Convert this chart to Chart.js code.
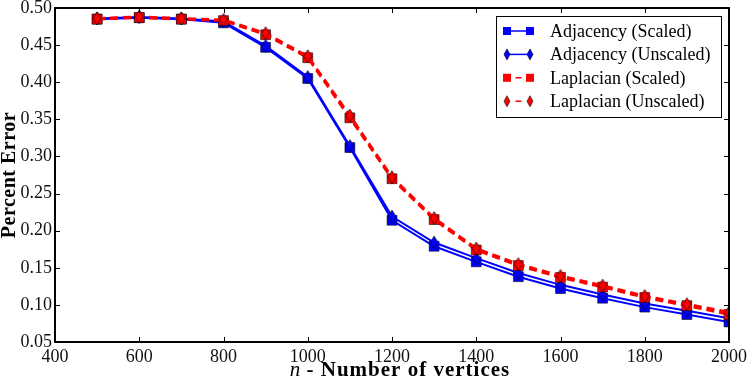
<!DOCTYPE html>
<html>
<head>
<meta charset="utf-8">
<script src="https://cdn.jsdelivr.net/npm/chart.js@4.4.0/dist/chart.umd.min.js"></script>
<style>
  html, body { margin: 0; padding: 0; background: #fff; }
</style>
</head>
<body>
<canvas id="chart" width="747" height="379"></canvas>
<script>
// n values and percent error for each method
const vertices = [500, 600, 700, 800, 900, 1000, 1100, 1200, 1300, 1400, 1500, 1600, 1700, 1800, 1900, 2000];
const adjScaled   = [0.485, 0.487, 0.485, 0.480, 0.447, 0.405, 0.312, 0.214, 0.179, 0.158, 0.138, 0.122, 0.109, 0.097, 0.087, 0.077];
const adjUnscaled = [0.486, 0.488, 0.486, 0.482, 0.449, 0.407, 0.314, 0.219, 0.184, 0.163, 0.143, 0.127, 0.114, 0.102, 0.092, 0.082];
const lapScaled   = [0.485, 0.487, 0.485, 0.483, 0.464, 0.433, 0.352, 0.270, 0.215, 0.174, 0.153, 0.137, 0.124, 0.110, 0.099, 0.087];
const lapUnscaled = [0.486, 0.488, 0.486, 0.484, 0.466, 0.435, 0.355, 0.272, 0.217, 0.176, 0.155, 0.139, 0.126, 0.112, 0.101, 0.090];
const seriesNames = ["Adjacency (Scaled)", "Adjacency (Unscaled)", "Laplacian (Scaled)", "Laplacian (Unscaled)"];

const xTicks = { min: 400, max: 2000, step: 200 };
const yTicks = { min: 0.05, max: 0.50, step: 0.05 };

const SERIF = '"Liberation Serif", "Times New Roman", serif';
Chart.defaults.font.family = SERIF;

function diamond(color, w, h) {
  const c = document.createElement("canvas");
  c.width = w + 2;
  c.height = h + 2;
  const g = c.getContext("2d");
  g.beginPath();
  g.moveTo(c.width / 2, 1);
  g.lineTo(c.width - 1, c.height / 2);
  g.lineTo(c.width / 2, c.height - 1);
  g.lineTo(1, c.height / 2);
  g.closePath();
  g.fillStyle = color;
  g.fill();
  g.strokeStyle = "rgba(0,0,0,0.75)";
  g.lineWidth = 0.8;
  g.stroke();
  return c;
}

const blueDiamond = diamond("#0000ff", 8, 13);
const redDiamond = diamond("#ff0000", 8, 13);
const blueDiamondSmall = diamond("#0000ff", 6, 11);
const redDiamondSmall = diamond("#ff0000", 6, 11);

function pts(vals) {
  return vertices.map((v, i) => ({ x: v, y: vals[i] }));
}

function makeSet(label, vals, color, marker, dashed, order) {
  return {
    label: label,
    data: pts(vals),
    borderColor: color,
    backgroundColor: color,
    borderWidth: dashed ? 2.8 : 2,
    borderDash: dashed ? [8, 5] : [],
    pointStyle: marker,
    pointRadius: 7,
    pointBorderColor: "rgba(0,0,0,0.55)",
    pointBorderWidth: 1,
    tension: 0,
    clip: 0,
    order: order,
  };
}

// axis frame with inward ticks on all four sides
const frame = {
  id: "frame",
  afterDatasetsDraw(chart) {
    const { ctx, chartArea: a, scales: { x, y } } = chart;
    ctx.save();
    ctx.strokeStyle = "#000";
    ctx.lineWidth = 1;
    ctx.beginPath();
    x.ticks.forEach((t) => {
      const px = Math.round(x.getPixelForValue(t.value)) + 0.5;
      ctx.moveTo(px, a.bottom); ctx.lineTo(px, a.bottom - 5);
      ctx.moveTo(px, a.top); ctx.lineTo(px, a.top + 5);
    });
    y.ticks.forEach((t) => {
      const py = Math.round(y.getPixelForValue(t.value)) + 0.5;
      ctx.moveTo(a.left, py); ctx.lineTo(a.left + 5, py);
      ctx.moveTo(a.right, py); ctx.lineTo(a.right - 5, py);
    });
    ctx.stroke();
    ctx.lineWidth = 2;
    ctx.strokeRect(a.left, a.top, a.right - a.left, a.bottom - a.top);
    ctx.restore();
  },
};

// axis titles (mixed italic / bold) and boxed legend
const annotate = {
  id: "annotate",
  afterDraw(chart) {
    const { ctx, chartArea: a } = chart;
    ctx.save();
    ctx.fillStyle = "#000";

    // y title
    ctx.save();
    ctx.translate(10, (a.top + a.bottom) / 2);
    ctx.rotate(-Math.PI / 2);
    ctx.font = "bold 20px " + SERIF;
    ctx.textAlign = "center";
    ctx.textBaseline = "middle";
    ctx.letterSpacing = "0.5px";
    ctx.fillText("Percent Error", 0, 0);
    ctx.restore();

    // x title
    ctx.save();
    ctx.textBaseline = "alphabetic";
    ctx.font = "italic 21px " + SERIF;
    const p1 = "n";
    const w1 = ctx.measureText(p1).width;
    ctx.font = "bold 21px " + SERIF;
    ctx.letterSpacing = "1px";
    const p2 = " - Number of vertices";
    const w2 = ctx.measureText(p2).width;
    const start = (a.left + a.right) / 2 + 8 - (w1 + w2) / 2;
    ctx.fillText(p2, start + w1, 376);
    ctx.letterSpacing = "0px";
    ctx.font = "italic 21px " + SERIF;
    ctx.fillText(p1, start, 376);
    ctx.restore();

    // legend
    const w = 225, h = 101;
    const left = a.right - 8 - w, top = a.top + 8;
    ctx.fillStyle = "#fff";
    ctx.fillRect(left, top, w, h);
    ctx.strokeStyle = "#000";
    ctx.lineWidth = 1;
    ctx.strokeRect(left + 0.5, top + 0.5, w, h);
    ctx.font = "18px " + SERIF;
    ctx.textBaseline = "middle";
    chart.data.datasets.forEach((ds, i) => {
      const cy = top + 15 + i * 23.4;
      const x0 = left + 11, x1 = left + 34;
      ctx.strokeStyle = ds.borderColor;
      ctx.lineWidth = 1.5;
      ctx.beginPath();
      if (ds.borderDash.length) {
        const mid = (x0 + x1) / 2;
        ctx.moveTo(mid - 3, cy); ctx.lineTo(mid + 3, cy);
      } else {
        ctx.moveTo(x0, cy); ctx.lineTo(x1, cy);
      }
      ctx.stroke();
      [x0, x1].forEach((mx) => {
        if (ds.pointStyle === "rect") {
          ctx.fillStyle = ds.borderColor;
          ctx.fillRect(mx - 4, cy - 4, 8, 8);
        } else {
          const img = ds.borderColor === "#0000ff" ? blueDiamondSmall : redDiamondSmall;
          ctx.drawImage(img, mx - img.width / 2, cy - img.height / 2);
        }
      });
      ctx.fillStyle = "#000";
      ctx.fillText(ds.label, left + 54, cy + 1);
    });
    ctx.restore();
  },
};

const ctx = document.getElementById("chart").getContext("2d");

new Chart(ctx, {
  type: "line",
  data: {
    datasets: [
      makeSet(seriesNames[0], adjScaled, "#0000ff", "rect", false, 4),
      makeSet(seriesNames[1], adjUnscaled, "#0000ff", blueDiamond, false, 3),
      makeSet(seriesNames[2], lapScaled, "#ff0000", "rect", true, 2),
      makeSet(seriesNames[3], lapUnscaled, "#ff0000", redDiamond, true, 1),
    ],
  },
  options: {
    responsive: false,
    animation: false,
    devicePixelRatio: 1,
    layout: { padding: { left: 0, right: 18, top: 7, bottom: 0 } },
    plugins: {
      legend: { display: false },
      tooltip: { enabled: false },
    },
    scales: {
      x: {
        type: "linear",
        min: xTicks.min,
        max: xTicks.max,
        grid: { display: false, drawTicks: false },
        border: { display: false },
        ticks: {
          stepSize: xTicks.step,
          padding: 4,
          color: "#111",
          font: { family: SERIF, size: 18 },
          maxRotation: 0,
          callback: (v) => String(v),
        },
        afterFit(s) {
          s.height = 37;
          s.paddingLeft = 0;
          s.paddingRight = 0;
        },
      },
      y: {
        min: yTicks.min,
        max: yTicks.max,
        grid: { display: false, drawTicks: false },
        border: { display: false },
        ticks: {
          stepSize: yTicks.step,
          padding: 3,
          color: "#111",
          font: { family: SERIF, size: 18 },
          callback: (v) => v.toFixed(2),
        },
        afterFit(s) {
          s.width = 55;
          s.paddingTop = 0;
          s.paddingBottom = 0;
        },
      },
    },
  },
  plugins: [frame, annotate],
});
</script>
</body>
</html>
